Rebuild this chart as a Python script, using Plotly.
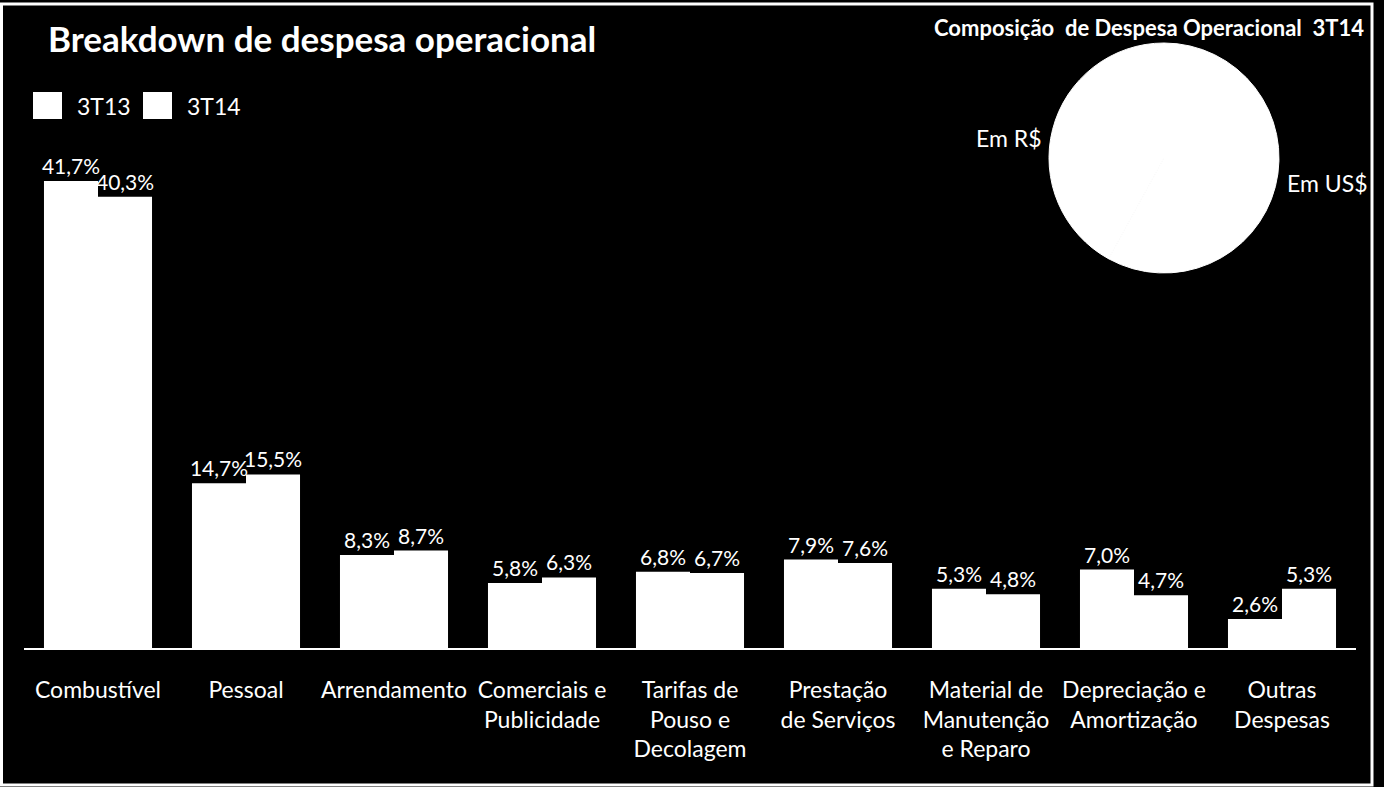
import plotly.graph_objects as go

categories = ["Combustível", "Pessoal", "Arrendamento", "Comerciais e<br>Publicidade",
              "Tarifas de<br>Pouso e<br>Decolagem", "Prestação<br>de Serviços",
              "Material de<br>Manutenção<br>e Reparo", "Depreciação e<br>Amortização",
              "Outras<br>Despesas"]
series_names = ["3T13", "3T14"]
values_3t13 = [41.7, 14.7, 8.3, 5.8, 6.8, 7.9, 5.3, 7.0, 2.6]
values_3t14 = [40.3, 15.5, 8.7, 6.3, 6.7, 7.6, 4.8, 4.7, 5.3]
pie_labels = ["Em US$", "Em R$"]
pie_values = [58, 42]

FONT = "Lato"
W, H = 1384, 787

def px(x):
    return x / W

def py(y):
    return 1 - y / H

fig = go.Figure()
for name, vals in zip(series_names, [values_3t13, values_3t14]):
    fig.add_trace(go.Bar(
        x=categories, y=vals, name=name,
        marker=dict(color="white", line=dict(width=0)),
        texttemplate="%{y:.1f}%", textposition="outside", constraintext="none",
        textfont=dict(family=FONT, size=21, color="white"),
        cliponaxis=False, showlegend=False,
    ))

fig.add_trace(go.Pie(
    labels=pie_labels, values=pie_values, sort=False, direction="clockwise",
    rotation=0, textinfo="none", hoverinfo="label+percent",
    marker=dict(colors=["white", "white"], line=dict(color="white", width=1)),
    domain=dict(x=[px(1049), px(1279)], y=[py(273), py(43)]),
    showlegend=False,
))

def ann(text, x, y, size, xanchor="center", bold=False):
    return dict(text=f"<b>{text}</b>" if bold else text, x=px(x), y=py(y),
                xref="paper", yref="paper", xanchor=xanchor, yanchor="middle",
                showarrow=False, font=dict(family=FONT, size=size, color="white"))

annotations = [
    ann("Breakdown de despesa operacional", 46, 38, 35, "left", True),
    ann("Composição  de Despesa Operacional  3T14", 1366, 28, 22, "right", True),
    ann("Em R$", 1009, 138, 23),
    ann("Em US$", 1327, 183, 23),
]
shapes = [
    dict(type="rect", xref="paper", yref="paper", x0=px(1.5), x1=px(1372), y0=py(785), y1=py(4),
         line=dict(color="white", width=3), fillcolor="rgba(0,0,0,0)", layer="below"),
]
# manual legend
legend_x = [33, 143]
for lx, name in zip(legend_x, series_names):
    shapes.append(dict(type="rect", xref="paper", yref="paper", x0=px(lx), x1=px(lx + 29),
                       y0=py(119), y1=py(92), fillcolor="white", line=dict(width=0)))
    annotations.append(ann(name, lx + 42, 106, 23, "left"))

fig.update_layout(
    width=W, height=H, autosize=False,
    paper_bgcolor="black", plot_bgcolor="black",
    margin=dict(l=0, r=0, t=0, b=0),
    separators=",.",
    barmode="group", bargap=0.27, bargroupgap=0,
    annotations=annotations, shapes=shapes,
    xaxis=dict(domain=[px(24), px(1356)], range=[-0.5, 8.5], showline=True, linecolor="white",
               linewidth=2, showgrid=False, zeroline=False, ticks="", ticklabelstandoff=20,
               tickangle=0, automargin=False,
               tickfont=dict(family=FONT, size=23, color="white"), fixedrange=True),
    yaxis=dict(domain=[py(648), py(144)], range=[0, 45], visible=False, showgrid=False,
               zeroline=False, fixedrange=True),
    font=dict(family=FONT, color="white"),
)

fig.write_html("out.html")
